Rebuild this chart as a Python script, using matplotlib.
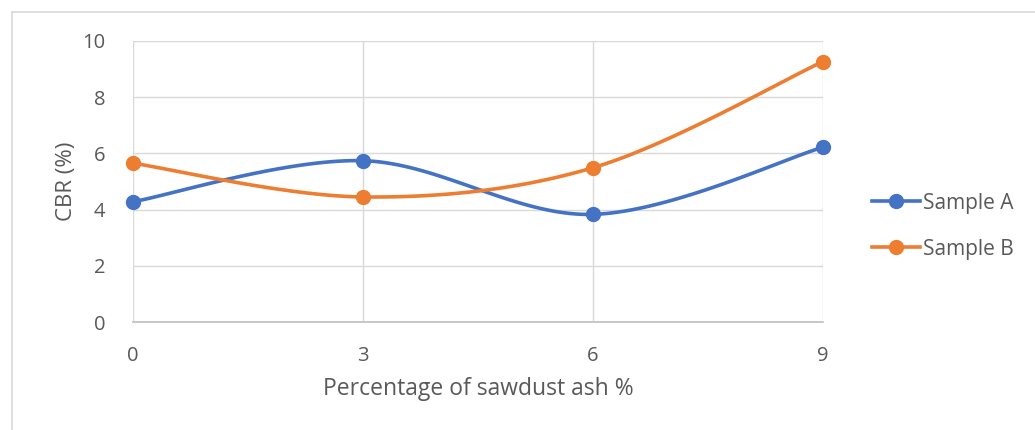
import matplotlib
matplotlib.use("Agg")

import matplotlib.pyplot as plt
import numpy as np
from matplotlib.lines import Line2D

# Data
ash_pct = [0, 3, 6, 9]
sample_a = [4.28, 5.74, 3.83, 6.22]
sample_b = [5.65, 4.45, 5.49, 9.27]
series_names = ["Sample A", "Sample B"]

BLUE = "#4472C4"
ORANGE = "#ED7D31"
GRID = "#D9D9D9"
TEXT = "#595959"

plt.rcParams["font.family"] = ["Open Sans", "DejaVu Sans"]


def smooth(xs, ys, n=40):
    # Excel-style smoothed line: cubic Bezier through points with
    # Catmull-Rom control points (tension 1/6)
    pts = np.column_stack([xs, ys]).astype(float)
    out = [pts[0]]
    for i in range(len(pts) - 1):
        p0 = pts[i - 1] if i > 0 else pts[i]
        p1 = pts[i]
        p2 = pts[i + 1]
        p3 = pts[i + 2] if i + 2 < len(pts) else pts[i + 1]
        c1 = p1 + (p2 - p0) / 6.0
        c2 = p2 - (p3 - p1) / 6.0
        t = np.linspace(0, 1, n)[1:, None]
        seg = ((1 - t) ** 3) * p1 + 3 * ((1 - t) ** 2) * t * c1 \
            + 3 * (1 - t) * t ** 2 * c2 + t ** 3 * p2
        out.extend(seg)
    out = np.array(out)
    return out[:, 0], out[:, 1]


fig = plt.figure(figsize=(10.35, 4.3), dpi=100)
W, H = 1035, 430
ax = fig.add_axes([133 / W, (H - 322) / H, (823 - 133) / W, (322 - 41) / H])

LW = 2.6
MS = 10
for ys, color in [(sample_a, BLUE), (sample_b, ORANGE)]:
    sx, sy = smooth(ash_pct, ys)
    ax.plot(sx, sy, color=color, linewidth=LW, solid_capstyle="round",
            clip_on=False, zorder=3)
    ax.plot(ash_pct, ys, linestyle="none", marker="o", markersize=MS,
            color=color, clip_on=False, zorder=4)

ax.set_xlim(0, 9)
ax.set_ylim(0, 10)
ax.set_xticks(ash_pct)
ax.set_yticks(range(0, 11, 2))
ax.grid(True, color=GRID, linewidth=1.0)
ax.set_axisbelow(True)
for side in ["top", "right", "left"]:
    ax.spines[side].set_visible(False)
ax.spines["bottom"].set_color("#BFBFBF")
ax.spines["bottom"].set_linewidth(1.2)
ax.tick_params(length=0, labelsize=14.5, colors=TEXT)
ax.tick_params(axis="y", pad=20)
ax.tick_params(axis="x", pad=17)

ax.set_xlabel("Percentage of sawdust ash %", fontsize=16.5, color=TEXT, labelpad=8)
ax.set_ylabel("CBR (%)", fontsize=16, color=TEXT, labelpad=4)

handles = [
    Line2D([], [], color=BLUE, linewidth=LW, marker="o", markersize=MS),
    Line2D([], [], color=ORANGE, linewidth=LW, marker="o", markersize=MS),
]
fig.legend(handles, series_names, loc="center left",
           bbox_to_anchor=(853 / W, 1 - 226 / H), frameon=False,
           fontsize=15, labelcolor=TEXT, handlelength=2.3,
           handletextpad=0.15, labelspacing=1.2)

# outer chart border (only top and left edges are visible in the crop)
fig.add_artist(Line2D([11.5 / W, 1], [1 - 11.5 / H] * 2, color="#D9D9D9",
                      linewidth=1.2, transform=fig.transFigure))
fig.add_artist(Line2D([11.5 / W] * 2, [0, 1 - 11.5 / H], color="#D9D9D9",
                      linewidth=1.2, transform=fig.transFigure))

fig.savefig("out.png", dpi=100, facecolor="white")
